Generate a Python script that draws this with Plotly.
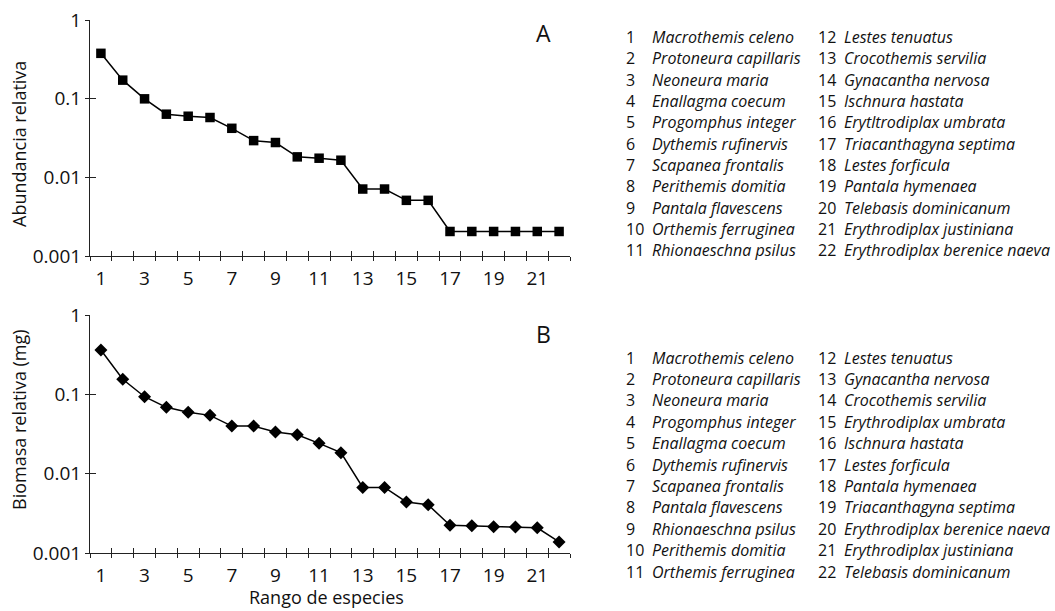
import plotly.graph_objects as go

rank = list(range(1, 23))
abundancia = [0.377, 0.172, 0.0995, 0.0635, 0.0598, 0.0576, 0.042, 0.0293, 0.0277, 0.0182, 0.0175,
              0.0165, 0.0071, 0.0071, 0.0051, 0.0051, 0.00205, 0.00205, 0.00205, 0.00205, 0.00205, 0.00205]
biomasa = [0.362, 0.155, 0.0933, 0.0686, 0.0593, 0.0543, 0.0398, 0.0398, 0.0335, 0.031, 0.0241,
           0.0184, 0.0067, 0.0067, 0.0044, 0.00405, 0.00223, 0.0022, 0.00214, 0.00212, 0.00208, 0.00138]

species_A = ["Macrothemis celeno", "Protoneura capillaris", "Neoneura maria", "Enallagma coecum",
             "Progomphus integer", "Dythemis rufinervis", "Scapanea frontalis", "Perithemis domitia",
             "Pantala flavescens", "Orthemis ferruginea", "Rhionaeschna psilus", "Lestes tenuatus",
             "Crocothemis servilia", "Gynacantha nervosa", "Ischnura hastata", "Erytltrodiplax umbrata",
             "Triacanthagyna septima", "Lestes forficula", "Pantala hymenaea", "Telebasis dominicanum",
             "Erythrodiplax justiniana", "Erythrodiplax berenice naeva"]
species_B = ["Macrothemis celeno", "Protoneura capillaris", "Neoneura maria", "Progomphus integer",
             "Enallagma coecum", "Dythemis rufinervis", "Scapanea frontalis", "Pantala flavescens",
             "Rhionaeschna psilus", "Perithemis domitia", "Orthemis ferruginea", "Lestes tenuatus",
             "Gynacantha nervosa", "Crocothemis servilia", "Erythrodiplax umbrata", "Ischnura hastata",
             "Lestes forficula", "Pantala hymenaea", "Triacanthagyna septima", "Erythrodiplax berenice naeva",
             "Erythrodiplax justiniana", "Telebasis dominicanum"]

x_ticklabels = [1, 3, 5, 7, 9, 11, 13, 15, 17, 19, 21]
boundaries = [k + 0.5 for k in range(0, 23)]
y_tickvals = [0.001, 0.01, 0.1, 1]
y_ticktext = ["0.001", "0.01", "0.1", "1"]

W, H = 1055, 611
FONT = "Open Sans"
AX = "#222222"

def px(x):
    return x / W

def py(y):
    return 1 - y / H

fig = go.Figure()
fig.add_trace(go.Scatter(x=rank, y=abundancia, mode="lines+markers", xaxis="x", yaxis="y",
                         line=dict(color="black", width=1.5),
                         marker=dict(symbol="square", size=9.5, color="black"), showlegend=False))
fig.add_trace(go.Scatter(x=rank, y=biomasa, mode="lines+markers", xaxis="x2", yaxis="y2",
                         line=dict(color="black", width=1.5),
                         marker=dict(symbol="diamond", size=10, color="black"), showlegend=False))
fig.add_trace(go.Scatter(x=[], y=[], xaxis="x3", yaxis="y3", showlegend=False))
fig.add_trace(go.Scatter(x=[], y=[], xaxis="x4", yaxis="y4", showlegend=False))

xdom = [px(90), px(570)]
ydomA = [py(256), py(20)]
ydomB = [py(553), py(315)]
tickfont = dict(family=FONT, size=19, color="#111")

def xaxis_main(anchor, dom):
    return dict(domain=dom, anchor=anchor, range=[0.5, 22.5], showgrid=False, zeroline=False,
                showline=True, linecolor=AX, linewidth=1, automargin=False,
                tickmode="array", tickvals=x_ticklabels, ticktext=[str(v) for v in x_ticklabels],
                ticks="", tickfont=tickfont, ticklabelstandoff=5,
                minor=dict(tickmode="array", tickvals=boundaries, ticks="outside", ticklen=4,
                           tickcolor=AX, tickwidth=1, showgrid=False))

def xaxis_over(over, anchor, dom):
    return dict(domain=dom, anchor=anchor, overlaying=over, range=[0.5, 22.5], showgrid=False,
                zeroline=False, showline=False, tickmode="array", tickvals=boundaries, automargin=False,
                ticks="inside", ticklen=5, tickcolor=AX, tickwidth=1, showticklabels=False)

def yaxis_main(anchor, dom):
    return dict(domain=dom, anchor=anchor, type="log", range=[-3, 0], showgrid=False, zeroline=False,
                showline=True, linecolor=AX, linewidth=1, tickmode="array", tickvals=y_tickvals,
                ticktext=y_ticktext, ticks="outside", ticklen=4, tickcolor=AX, tickwidth=1,
                tickfont=tickfont, automargin=False)

def yaxis_over(over, anchor, dom):
    return dict(domain=dom, anchor=anchor, overlaying=over, type="log", range=[-3, 0], showgrid=False,
                zeroline=False, showline=False, tickmode="array", tickvals=y_tickvals, automargin=False,
                ticks="inside", ticklen=6, tickcolor=AX, tickwidth=1, showticklabels=False)

fig.update_layout(
    width=W, height=H, autosize=False, margin=dict(l=0, r=0, t=0, b=0),
    paper_bgcolor="white", plot_bgcolor="white",
    xaxis=xaxis_main("y", xdom), yaxis=yaxis_main("x", ydomA),
    xaxis2=xaxis_main("y2", xdom), yaxis2=yaxis_main("x2", ydomB),
    xaxis3=xaxis_over("x", "y3", xdom), yaxis3=yaxis_over("y", "x3", ydomA),
    xaxis4=xaxis_over("x2", "y4", xdom), yaxis4=yaxis_over("y2", "x4", ydomB),
)

ann = []
tf = dict(family=FONT, size=18, color="#111")
ann.append(dict(text="Abundancia relativa", x=px(19), y=py(144), textangle=-90, font=tf))
ann.append(dict(text="Biomasa relativa (mg)", x=px(19), y=py(420), textangle=-90, font=tf))
ann.append(dict(text="Rango de especies", x=px(326), y=py(597), font=tf))
ann.append(dict(text="A", x=px(543), y=py(33), font=dict(family=FONT, size=23, color="#111")))
ann.append(dict(text="B", x=px(543), y=py(334), font=dict(family=FONT, size=23, color="#111")))

lf = dict(family=FONT, size=16, color="#111")
def species_list(names, y0, dy):
    for i, name in enumerate(names):
        col = 0 if i < 11 else 1
        row = i if i < 11 else i - 11
        yy = y0 + row * dy
        nx = 624 if col == 0 else 816
        sx = 650 if col == 0 else 842
        ann.append(dict(text=str(i + 1), x=px(nx), y=py(yy), xanchor="left", font=lf))
        ann.append(dict(text="<i>" + name + "</i>", x=px(sx), y=py(yy), xanchor="left", font=lf))

species_list(species_A, 37, 21.35)
species_list(species_B, 357.5, 21.4)

for a in ann:
    a.setdefault("xref", "paper")
    a.setdefault("yref", "paper")
    a.setdefault("showarrow", False)
    a.setdefault("yanchor", "middle")
    a.setdefault("xanchor", "center")
fig.update_layout(annotations=ann)

post = ("document.documentElement.style.margin='0';document.body.style.margin='0';"
        "document.documentElement.style.overflow='hidden';document.body.style.overflow='hidden';"
        "var d=document.getElementById('{plot_id}');d.style.position='fixed';d.style.top='0px';d.style.left='0px';")
fig.write_html("out.html", config={"displayModeBar": False, "responsive": False}, post_script=post)
